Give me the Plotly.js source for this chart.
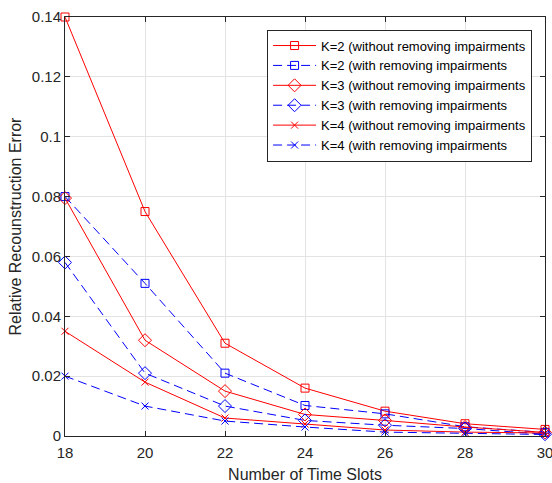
<!DOCTYPE html>
<html>
<head>
<meta charset="utf-8">
<script src="https://cdn.plot.ly/plotly-3.0.1.min.js"></script>
<style>html,body{margin:0;padding:0;background:#fff;}#chart{width:552px;height:483px;}</style>
</head>
<body>
<div id="chart"></div>
<script>
const timeSlots = [18, 20, 22, 24, 26, 28, 30];
const k2Without = [0.140, 0.075, 0.031, 0.016, 0.0083, 0.0041, 0.0022];
const k2With    = [0.080, 0.051, 0.021, 0.0102, 0.0074, 0.0031, 0.0012];
const k3Without = [0.0795, 0.032, 0.015, 0.0072, 0.0052, 0.0030, 0.0012];
const k3With    = [0.058, 0.021, 0.010, 0.0052, 0.0036, 0.0025, 0.0006];
const k4Without = [0.035, 0.018, 0.006, 0.0040, 0.0020, 0.0013, 0.0010];
const k4With    = [0.020, 0.010, 0.005, 0.0030, 0.0013, 0.0008, 0.0005];
const seriesNames = [
  'K=2 (without removing impairments',
  'K=2 (with removing impairments',
  'K=3 (without removing impairments',
  'K=3 (with removing impairments',
  'K=4 (without removing impairments',
  'K=4 (with removing impairments'
];
const seriesData = [k2Without, k2With, k3Without, k3With, k4Without, k4With];
const seriesColor = ['#ff0000', '#0000ff', '#ff0000', '#0000ff', '#ff0000', '#0000ff'];
const seriesDash = ['solid', '9px,5px', 'solid', '9px,5px', 'solid', '9px,5px'];
const seriesSymbol = ['square-open', 'square-open', 'diamond-open', 'diamond-open', 'x-thin-open', 'x-thin-open'];
const seriesSize = [8, 8, 10, 10, 7, 7];

const traces = seriesData.map((ys, i) => ({
  x: timeSlots,
  y: ys,
  name: seriesNames[i],
  type: 'scatter',
  mode: 'lines+markers',
  cliponaxis: false,
  line: {color: seriesColor[i], width: 1, dash: seriesDash[i]},
  marker: {symbol: seriesSymbol[i], size: seriesSize[i], color: seriesColor[i], line: {color: seriesColor[i], width: 1}}
}));

const fontFam = '"Liberation Sans", Arial, sans-serif';
const layout = {
  width: 552, height: 483,
  margin: {l: 65, r: 7, t: 17, b: 47},
  paper_bgcolor: '#ffffff',
  plot_bgcolor: '#ffffff',
  font: {family: fontFam, size: 15, color: '#262626'},
  showlegend: true,
  legend: {
    x: 0.421, y: 0.97, xanchor: 'left', yanchor: 'top',
    bgcolor: '#ffffff', bordercolor: '#262626', borderwidth: 1,
    itemwidth: 43,
    font: {family: fontFam, size: 13, color: '#000000'}
  },
  xaxis: {
    range: [18, 30], dtick: 2, tick0: 18,
    showgrid: true, gridcolor: '#e3e3e3', gridwidth: 1,
    showline: true, linecolor: '#262626', linewidth: 1, mirror: 'ticks',
    ticks: 'inside', ticklen: 5, tickcolor: '#262626',
    zeroline: false, ticklabeloverflow: 'allow', ticklabelstandoff: 3,
    tickfont: {family: fontFam, size: 15, color: '#262626'},
    title: {text: 'Number of Time Slots', font: {family: fontFam, size: 16, color: '#262626'}, standoff: 13}
  },
  yaxis: {
    range: [0, 0.14], dtick: 0.02, tick0: 0,
    showgrid: true, gridcolor: '#e3e3e3', gridwidth: 1,
    showline: true, linecolor: '#262626', linewidth: 1, mirror: 'ticks',
    ticks: 'inside', ticklen: 5, tickcolor: '#262626',
    zeroline: false, ticklabeloverflow: 'allow',
    tickfont: {family: fontFam, size: 15, color: '#262626'},
    title: {text: 'Relative Recounstruction Error', font: {family: fontFam, size: 16, color: '#262626'}, standoff: 6}
  }
};

Plotly.newPlot('chart', traces, layout, {displayModeBar: false, staticPlot: true});
</script>
</body>
</html>
